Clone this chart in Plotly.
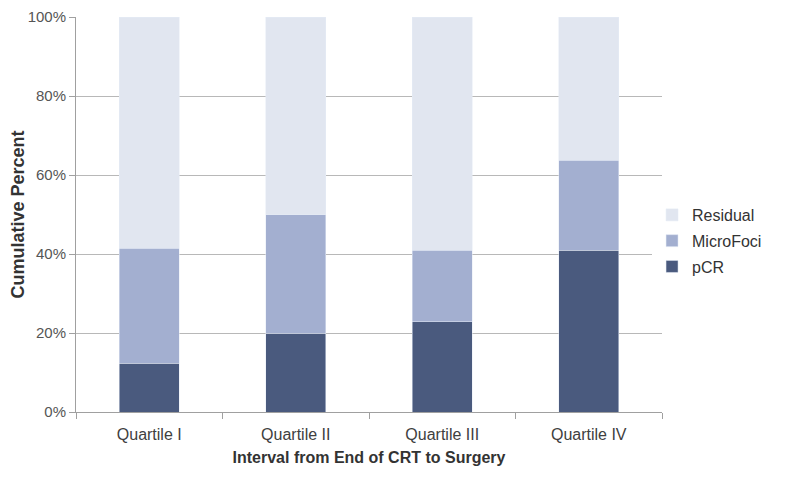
import plotly.graph_objects as go

categories = ["Quartile I", "Quartile II", "Quartile III", "Quartile IV"]
pcr = [12.3, 20.0, 22.9, 41.0]
microfoci = [29.2, 30.0, 18.1, 22.7]
residual = [58.5, 50.0, 59.0, 36.3]

fig = go.Figure()
fig.add_trace(go.Bar(name="pCR", x=categories, y=pcr, marker_color="#4a5a7e",
                     legendgroup="a", legendrank=3))
fig.add_trace(go.Bar(name="MicroFoci", x=categories, y=microfoci, marker_color="#a3afd0",
                     legendgroup="b", legendrank=2))
fig.add_trace(go.Bar(name="Residual", x=categories, y=residual, marker_color="#e1e6f0",
                     legendgroup="c", legendrank=1))

font_family = "Liberation Sans, Arial, sans-serif"
W, H = 792, 474
L, T = 68, 9
PW, PH = 586, 395
fig.update_layout(
    barmode="stack",
    bargap=0.59,
    width=W, height=H,
    margin=dict(l=L, r=W - L - PW, t=T, b=H - T - PH, autoexpand=False),
    plot_bgcolor="white", paper_bgcolor="white",
    font=dict(family=font_family, size=14, color="#4a4a4a"),
    legend=dict(
        x=0.983, y=0.433, xanchor="left", yanchor="middle",
        traceorder="grouped", font=dict(size=16, color="#333333"),
        itemwidth=30, tracegroupgap=2,
    ),
    xaxis=dict(
        automargin=False,
        showline=True, linecolor="#a0a0a0", linewidth=1,
        ticks="outside", tickson="boundaries", ticklen=6, tickcolor="#a0a0a0",
        tickfont=dict(size=16, color="#404040"),
        ticklabelstandoff=8,
        title=dict(text="<b>Interval from End of CRT to Surgery</b>",
                   font=dict(size=16, color="#333333"), standoff=9),
    ),
    yaxis=dict(
        automargin=False,
        range=[0, 100], tickvals=[0, 20, 40, 60, 80, 100],
        ticktext=["0%", "20%", "40%", "60%", "80%", "100%"],
        showgrid=True, gridcolor="#b8b8b8", gridwidth=1,
        showline=True, linecolor="#a0a0a0", linewidth=1,
        ticks="outside", ticklen=6, tickcolor="#a0a0a0",
        tickfont=dict(size=15, color="#555555"),
        title=dict(text="<b>Cumulative Percent</b>",
                   font=dict(size=18, color="#333333"), standoff=6),
        zeroline=False,
    ),
)

fig.write_html("out.html")
